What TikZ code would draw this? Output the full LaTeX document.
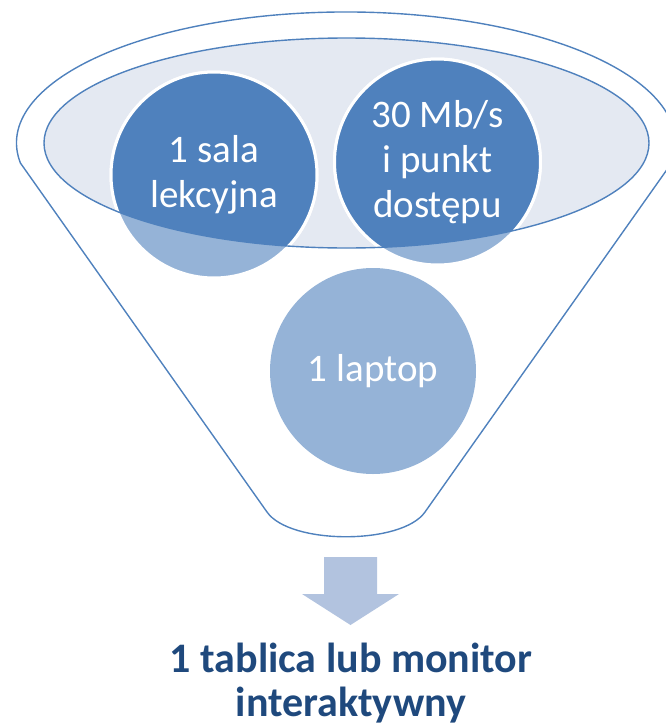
\documentclass[tikz,border=0pt]{standalone}
\usepackage{fontspec}
\setmainfont{Carlito}
\definecolor{dkblue}{HTML}{4F81BD}
\definecolor{ltblue}{HTML}{95B3D7}
\definecolor{ellfill}{HTML}{E4E9F2}
\definecolor{arrowc}{HTML}{B2C3DF}
\definecolor{titlec}{HTML}{1F497D}
\begin{document}
\begin{tikzpicture}[x=1pt,y=-1pt,
  outline/.style={draw=dkblue,line width=1.4pt},
  ring/.style={draw=white,line width=3pt},
  ctext/.style={text=white,align=center,font=\fontsize{39}{45}\selectfont},
  ttext/.style={text=titlec,align=center,inner sep=0pt,font=\fontsize{42}{44}\selectfont\bfseries}]
\useasboundingbox (0,0) rectangle (665,726);
% inner ellipse fill
\fill[ellfill] (346.5,143) ellipse[x radius=302.5,y radius=105];
% circles (light)
\filldraw[fill=ltblue,ring] (214,175) circle[radius=103];
\filldraw[fill=ltblue,ring] (437.5,162) circle[radius=103];
\fill[ltblue] (373,371) circle[radius=103];
% dark part inside ellipse
\begin{scope}
\clip (346.5,143) ellipse[x radius=302.5,y radius=105];
\filldraw[fill=dkblue,ring] (214,175) circle[radius=103];
\filldraw[fill=dkblue,ring] (437.5,162) circle[radius=103];
\end{scope}
% inner ellipse outline
\draw[outline] (346.5,143) ellipse[x radius=302.5,y radius=105];
% funnel outline
\draw[outline] (20.4,163) arc[start angle=171.2,end angle=368.8,x radius=329.5,y radius=131]
  -- (425,512) .. controls (402,545) and (290,545) .. (267,512) -- cycle;
% texts
\node[ctext] (a) at (214,175) {1 sala\\lekcyjna};
\node[ctext] (b) at (437.5,162) {30 Mb/s\\i punkt\\dostępu};
\node[ctext] (c) at (373,371) {1 laptop};
% arrow
\fill[arrowc] (324,557) -- (377,557) -- (377,594) -- (399,594) -- (350.5,625)
  -- (302,594) -- (324,594) -- cycle;
\node[ttext] (res) at (351,683) {1 tablica lub monitor\\interaktywny};
\end{tikzpicture}
\end{document}
